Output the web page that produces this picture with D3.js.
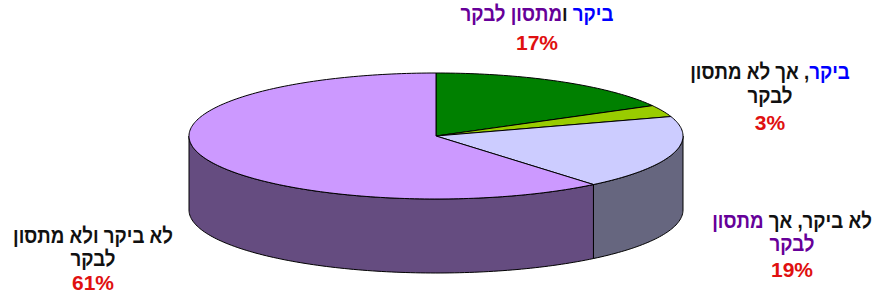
<!DOCTYPE html>
<html>
<head>
  <meta charset="utf-8">
  <title>3D pie</title>
  <script src="https://d3js.org/d3.v7.min.js"></script>
  <style>
    body { margin: 0; background: #fff; }
    text { font-family: Arial, "Liberation Sans", sans-serif; font-weight: bold; }
  </style>
</head>
<body>
<div id="chart"></div>
<script>
// data
const categories = ["ביקר ומתסון לבקר", "ביקר, אך לא מתסון לבקר", "לא ביקר, אך מתסון לבקר", "לא ביקר ולא מתסון לבקר"];
const values = [17, 3, 19, 61];
const percentLabels = ["17%", "3%", "19%", "61%"];

// label lines, split into coloured runs (b = blue, p = purple, k = black)
const labelLines = [
  [[["ביקר", "b"], [" ו", "k"], ["מתסון לבקר", "p"]]],
  [[["ביקר", "b"], [", אך לא מתסון", "k"]], [["לבקר", "k"]]],
  [[["לא ביקר, אך ", "k"], ["מתסון", "p"]], [["לבקר", "p"]]],
  [[["לא ביקר ולא מתסון", "k"]], [["לבקר", "k"]]]
];

const width = 876, height = 293;
const cx = 436, cy = 136, rx = 247, ry = 63, depth = 74;

const topColors = ["#008000", "#99cc00", "#ccccff", "#cc99ff"];
const sideColors = ["#004000", "#4d6600", "#66667f", "#654c80"];
const runColor = { b: "#0000ff", p: "#660099", k: "#111111" };

// label centre x and baselines of each line (last one is the percentage)
const labelX = [537, 770, 792, 93];
const labelY = [[21, 50], [79, 103, 130], [228, 251, 277], [243, 266, 290]];

const svg = d3.select("#chart").append("svg")
  .attr("width", width)
  .attr("height", height);

const pie = d3.pie().sort(null).value(d => d);
const arcs = pie(values);

const px = a => cx + rx * Math.sin(a);
const py = a => cy - ry * Math.cos(a);

function arcPoints(a0, a1, dy) {
  const n = Math.max(2, Math.ceil(Math.abs(a1 - a0) / 0.02));
  return d3.range(n + 1).map(i => {
    const a = a0 + (a1 - a0) * i / n;
    return [px(a), py(a) + dy];
  });
}

// side walls, only the front half (pi/2 .. 3pi/2) is visible
arcs.forEach((d, i) => {
  const a0 = Math.max(d.startAngle, Math.PI / 2);
  const a1 = Math.min(d.endAngle, 3 * Math.PI / 2);
  if (a1 <= a0) return;
  const pts = arcPoints(a0, a1, 0).concat(arcPoints(a1, a0, depth));
  svg.append("path")
    .attr("d", d3.line()(pts) + "Z")
    .attr("fill", sideColors[i])
    .attr("stroke", "#000")
    .attr("stroke-width", 1)
    .attr("stroke-linejoin", "round");
});

// top face
arcs.forEach((d, i) => {
  const pts = [[cx, cy]].concat(arcPoints(d.startAngle, d.endAngle, 0));
  svg.append("path")
    .attr("d", d3.line()(pts) + "Z")
    .attr("fill", topColors[i])
    .attr("stroke", "#000")
    .attr("stroke-width", 1)
    .attr("stroke-linejoin", "round");
});

// labels
labelLines.forEach((lines, i) => {
  const g = svg.append("g");
  const lx = labelX[i];
  lines.forEach((runs, j) => {
    const t = g.append("text")
      .attr("transform", `translate(${lx},${labelY[i][j]}) scale(0.85,1)`)
      .attr("text-anchor", "middle")
      .attr("direction", "rtl")
      .attr("font-size", 22);
    runs.forEach(r => {
      t.append("tspan").attr("fill", runColor[r[1]]).text(r[0]);
    });
  });
  g.append("text")
    .attr("x", lx)
    .attr("y", labelY[i][lines.length])
    .attr("text-anchor", "middle")
    .attr("font-size", 21)
    .attr("fill", "#e01010")
    .text(percentLabels[i]);
});
</script>
</body>
</html>
